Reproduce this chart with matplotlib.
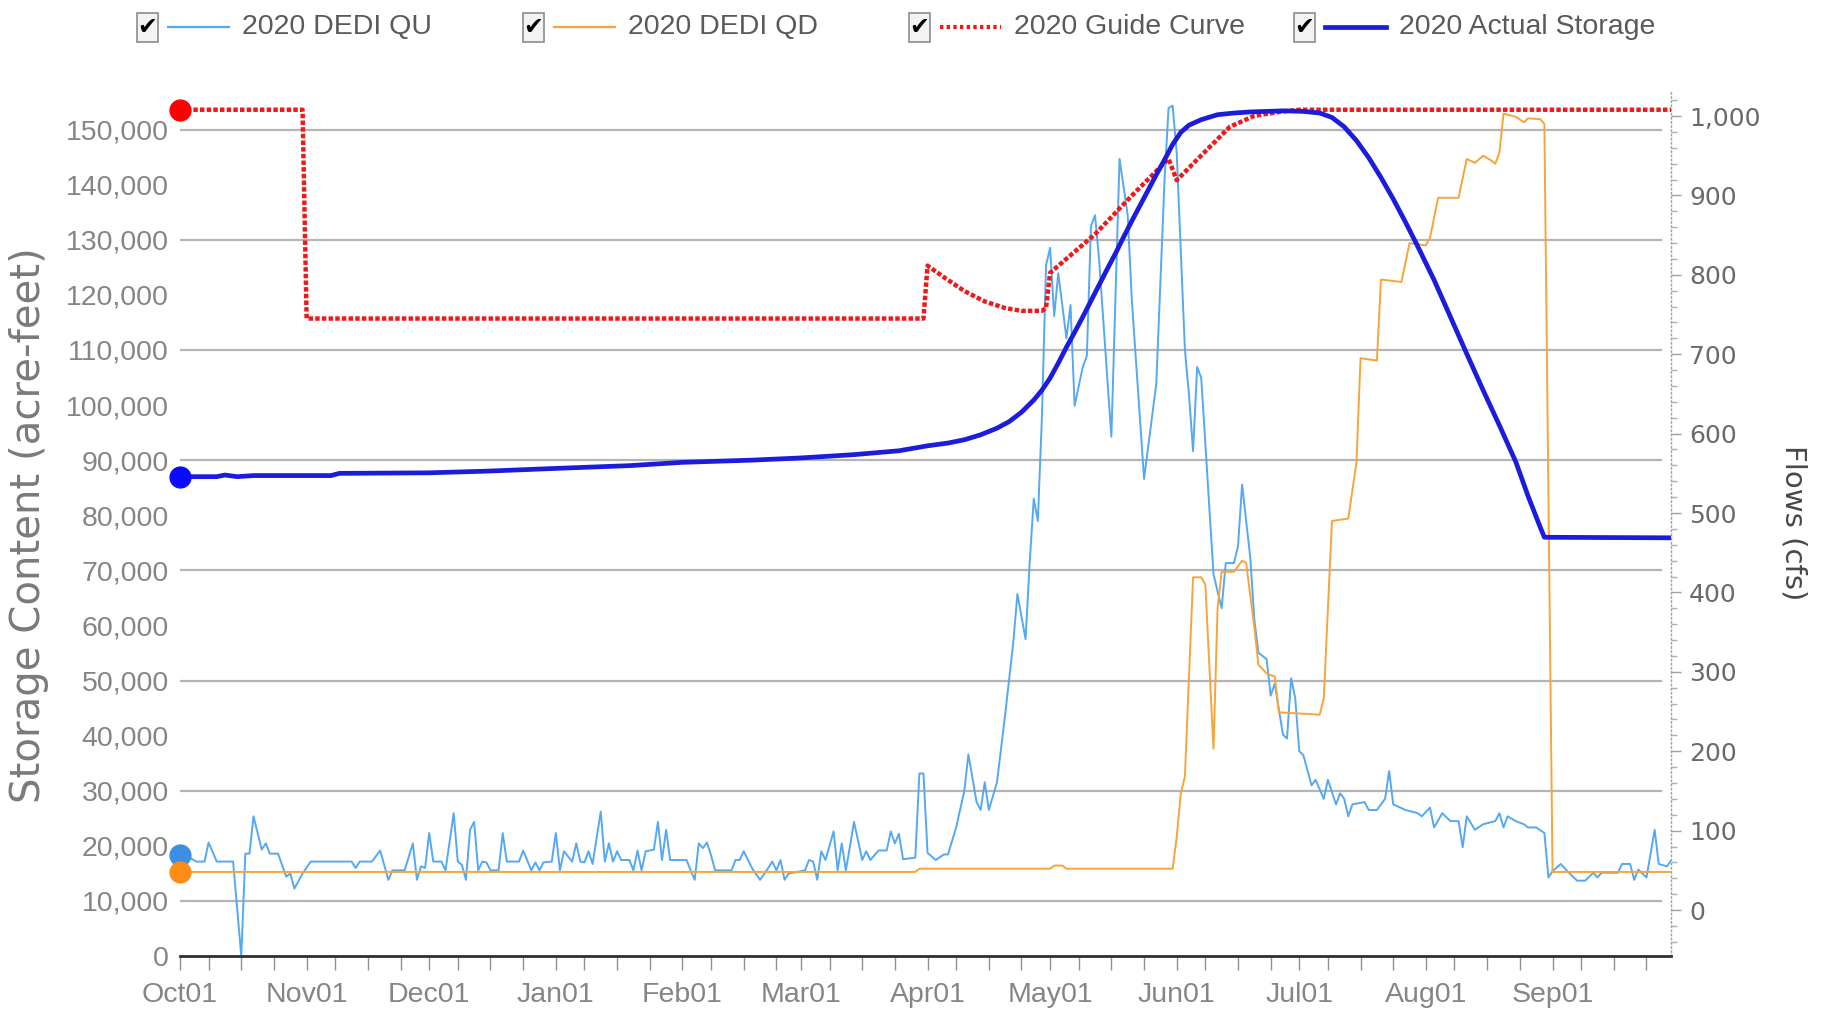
import matplotlib
matplotlib.use('Agg')
import matplotlib.pyplot as plt
import matplotlib.dates as mdates
import matplotlib.transforms as mtransforms
from matplotlib.patches import Rectangle
from matplotlib.lines import Line2D
from matplotlib.ticker import FuncFormatter, MultipleLocator
import numpy as np

plt.rcParams['font.family'] = ['Liberation Sans', 'DejaVu Sans']

START = np.datetime64('2019-10-01')

# days since Oct 1 2019 / upstream flow (cfs)
qu_day = [0, 2, 4, 6, 7, 9, 13, 15, 16, 17, 18, 20, 21, 22, 24, 26, 27, 28, 30, 32,
          42, 43, 44, 47, 49, 51, 52, 55, 57, 58, 59, 60, 61, 62, 64, 65, 67, 68, 69, 70,
          71, 72, 73, 74, 75, 76, 78, 79, 80, 83, 84, 86, 87, 88, 89, 91, 92, 93, 94, 96,
          97, 98, 99, 100, 101, 103, 104, 105, 106, 107, 108, 110, 111, 112, 113, 114, 116, 117, 118, 119,
          120, 124, 125, 126, 127, 128, 129, 130, 131, 135, 136, 137, 138, 140, 142, 144, 145, 146, 147, 148,
          149, 153, 154, 155, 156, 157, 158, 160, 161, 162, 163, 164, 165, 167, 168, 169, 171, 173, 174, 175,
          176, 177, 180, 181, 182, 183, 185, 187, 188, 190, 192, 193, 195, 196, 197, 198, 200, 202, 204, 205,
          207, 208, 209, 210, 211, 212, 213, 214, 215, 217, 218, 219, 221, 222, 223, 224, 225, 228, 230, 232,
          233, 236, 239, 241, 242, 243, 244, 246, 247, 248, 249, 250, 253, 255, 256, 258, 259, 260, 262, 263,
          264, 266, 267, 268, 270, 271, 272, 273, 274, 275, 277, 278, 280, 281, 283, 284, 285, 286, 287, 290,
          291, 293, 295, 296, 297, 300, 303, 304, 306, 307, 309, 311, 313, 314, 315, 317, 319, 322, 323, 324,
          325, 327, 329, 330, 332, 334, 335, 336, 338, 340, 342, 344, 346, 347, 348, 352, 353, 355, 356, 357,
          359, 361, 362, 364, 365]
qu_cfs = [69, 67, 61, 61, 85, 61, 61, -58, 71, 71, 118, 76, 84, 71, 71, 42, 46, 27, 46, 61,
          61, 53, 61, 61, 75, 38, 50, 50, 84, 38, 55, 53, 97, 61, 61, 50, 122, 61, 57, 38,
          101, 111, 50, 61, 60, 50, 50, 97, 61, 61, 75, 50, 60, 50, 60, 61, 97, 50, 74, 61,
          84, 61, 60, 74, 58, 124, 61, 84, 61, 74, 63, 63, 50, 75, 50, 74, 76, 111, 63, 101,
          63, 63, 50, 38, 84, 78, 85, 69, 50, 50, 63, 63, 74, 53, 38, 53, 61, 50, 63, 38,
          46, 50, 63, 61, 38, 74, 63, 99, 50, 84, 50, 80, 111, 63, 74, 63, 75, 75, 99, 84,
          96, 64, 66, 172, 172, 72, 63, 70, 70, 104, 150, 196, 136, 126, 161, 126, 161, 246, 338, 398,
          341, 437, 518, 490, 621, 812, 834, 748, 802, 720, 762, 635, 684, 698, 861, 875, 819, 596, 946, 875,
          769, 543, 663, 918, 1010, 1013, 953, 706, 649, 578, 684, 670, 423, 380, 437, 437, 458, 536, 444, 366,
          324, 316, 270, 285, 221, 216, 292, 267, 200, 195, 157, 164, 140, 164, 133, 147, 140, 118, 133, 136,
          126, 126, 140, 175, 133, 126, 122, 118, 129, 104, 122, 112, 112, 79, 118, 101, 108, 112, 122, 104,
          118, 112, 108, 104, 104, 97, 41, 49, 58, 47, 37, 37, 47, 41, 47, 47, 58, 58, 38, 51,
          41, 101, 58, 55, 62]

# downstream flow (cfs)
qd_day = [0, 180, 181, 213, 214, 216, 217, 243, 244, 245, 246, 248, 250, 251, 253, 254, 255, 258, 260, 261,
          263, 264, 266, 268, 269, 279, 280, 282, 286, 288, 289, 293, 294, 299, 301, 305, 306, 308, 313, 315,
          317, 319, 321, 322, 323, 324, 327, 329, 330, 333, 334, 336, 365]
qd_cfs = [48, 48, 52, 52, 56, 56, 52, 52, 92, 147, 168, 419, 419, 410, 203, 380, 426, 426, 440, 437,
          356, 309, 298, 294, 249, 246, 267, 490, 493, 564, 695, 692, 794, 791, 840, 837, 847, 897, 897, 946,
          941, 950, 944, 940, 954, 1003, 999, 992, 997, 996, 990, 48, 48]

# guide curve (acre-feet)
guide_day = [0, 30, 31, 182, 183, 187, 192, 197, 202, 206, 211, 212, 213, 224, 233, 242, 244, 250, 257, 263,
             270, 274, 365]
guide_af = [153600, 153600, 115700, 115700, 125300, 123200, 120700, 118800, 117600, 117100, 117100, 117600, 124000,
            131000, 138000, 144700, 140800, 145300, 150500, 152500, 153300, 153600, 153600]

# actual storage (acre-feet)
storage_day = [0, 9, 11, 14, 18, 37, 39, 61, 75, 92, 110, 123, 140, 152, 165, 176, 183, 188, 192, 196,
               200, 203, 206, 209, 211, 213, 215, 217, 219, 221, 223, 225, 227, 229, 231, 233, 235, 237, 239, 241,
               243, 245, 247, 250, 254, 258, 262, 266, 270, 275, 279, 282, 285, 288, 291, 294, 297, 300, 303, 307,
               311, 315, 319, 323, 327, 330, 333, 334, 365]
storage_af = [87000, 87000, 87300, 87000, 87200, 87200, 87600, 87700, 88000, 88500, 89000, 89600, 90000, 90400,
              91000, 91700, 92600, 93100, 93700, 94600, 95800, 97000, 98700, 100900, 102700, 104900, 107600,
              110500, 113200, 116000, 118900, 121800, 124700, 127500, 130500, 133400, 136200, 139000, 141800,
              144500, 147300, 149500, 150800, 151800, 152700, 153000, 153200, 153300, 153400, 153300, 153000,
              152200, 150500, 148000, 144900, 141300, 137400, 133200, 128800, 122700, 116000, 109300, 102700,
              96300, 89700, 83500, 77800, 76000, 75900]

storage_ticks = list(range(0, 150001, 10000))
grid_levels = list(range(10000, 150001, 20000))


def to_dates(days):
    return START + np.array(days).astype('timedelta64[D]')


C_QU = '#55a8f2'
C_QD = '#f7a43a'
C_GUIDE = '#f01818'
C_STORE = '#1c1cdc'

W, H = 1822, 1014
fig = plt.figure(figsize=(W / 100, H / 100), dpi=100)
ax = fig.add_axes([180 / W, 1 - 956 / H, 1491 / W, 865 / H])   # flows
ax2 = ax.twinx()                                              # storage
ax.yaxis.tick_right()
ax.yaxis.set_label_position('right')
ax2.yaxis.tick_left()
ax2.yaxis.set_label_position('left')

ax.set_xlim(START, START + np.timedelta64(365, 'D'))
ax.set_ylim(-57.9, 1031.5)
ax2.set_ylim(0, 157000)

# horizontal grid at storage levels, drawn under the flow lines
trans = mtransforms.blended_transform_factory(ax.transAxes, ax2.transData)
for g in grid_levels:
    ax.add_line(Line2D([0, 0.993], [g, g], transform=trans, color='#b4b4b4', lw=1.6, zorder=0.5))

ax.plot(to_dates(qu_day), qu_cfs, color=C_QU, lw=1.4, zorder=2)
ax.plot(to_dates(qd_day), qd_cfs, color=C_QD, lw=1.4, zorder=3)
ax.plot(to_dates(qu_day[:1]), qu_cfs[:1], 'o', ms=15, color='#3d8fe6', clip_on=False, zorder=4)
ax.plot(to_dates(qd_day[:1]), qd_cfs[:1], 'o', ms=15, color='#ff8c14', clip_on=False, zorder=5)

ax2.plot(to_dates(guide_day), guide_af, color=C_GUIDE, lw=3.2, linestyle=(0, (1, 0.5)), zorder=2)
ax2.plot(to_dates(storage_day), storage_af, color=C_STORE, lw=3.4, zorder=3)
ax2.plot(to_dates(guide_day[:1]), guide_af[:1], 'o', ms=15, color='#ff0000', clip_on=False, zorder=4)
ax2.plot(to_dates(storage_day[:1]), storage_af[:1], 'o', ms=15, color='#0a0aff', clip_on=False, zorder=4)

# spines
for s in ['top', 'left']:
    ax.spines[s].set_visible(False)
ax.spines['right'].set_color('#a0a0a0')
ax.spines['right'].set_linestyle((0, (1, 2)))
ax.spines['right'].set_linewidth(1.0)
ax.spines['bottom'].set_color('#303030')
ax.spines['bottom'].set_linewidth(2.0)
for s in ax2.spines.values():
    s.set_visible(False)

# x axis
ax.xaxis.set_major_locator(mdates.MonthLocator())
ax.xaxis.set_major_formatter(mdates.DateFormatter('%b%d'))
ax.xaxis.set_minor_locator(mdates.DayLocator(bymonthday=[8, 16, 24]))
ax.tick_params(axis='x', which='both', direction='out', length=10, width=1.0, color='#909090')
ax.tick_params(axis='x', which='major', labelsize=20.5, labelcolor='#858585', pad=9)

# right flow axis
ax.yaxis.set_major_locator(MultipleLocator(100))
ax.yaxis.set_minor_locator(MultipleLocator(20))
ax.yaxis.set_major_formatter(FuncFormatter(lambda v, p: f'{v:,.0f}' if 0 <= v <= 1000 else ''))
ax.tick_params(axis='y', which='major', direction='out', length=7, width=1.0, color='#a0a0a0',
               labelsize=18, labelcolor='#6a6a6a', pad=6, labelfontfamily='DejaVu Sans')
ax.tick_params(axis='y', which='minor', direction='out', length=4, width=1.0, color='#b0b0b0')

# left storage axis
ax2.set_yticks(storage_ticks)
ax2.yaxis.set_major_formatter(FuncFormatter(lambda v, p: f'{v:,.0f}'))
ax2.tick_params(axis='y', length=0, labelsize=20.5, labelcolor='#858585', pad=8)

fig.text(29 / W, 1 - 525 / H, 'Storage Content (acre-feet)', rotation=90, ha='center', va='center',
         fontsize=29, color='#7a7a7a', family='DejaVu Sans')
fig.text(1793 / W, 1 - 523 / H, 'Flows (cfs)', rotation=-90, ha='center', va='center',
         fontsize=21, color='#484848', family='DejaVu Sans')

# legend with check boxes
legend_items = [
    ('2020 DEDI QU', dict(color=C_QU, lw=1.6), 137),
    ('2020 DEDI QD', dict(color=C_QD, lw=1.6), 523),
    ('2020 Guide Curve', dict(color=C_GUIDE, lw=3.0, linestyle=(0, (0.8, 0.8))), 909),
    ('2020 Actual Storage', dict(color=C_STORE, lw=3.4), 1294),
]
yc = 1 - 27 / H
for label, style, x0 in legend_items:
    fig.add_artist(Rectangle((x0 / W, 1 - 42 / H), 21 / W, 29 / H, transform=fig.transFigure,
                             facecolor='#f3f3f3', edgecolor='#8c8c8c', lw=1.2))
    fig.text((x0 + 10.5) / W, yc, '\u2714', ha='center', va='center', fontsize=17,
             color='black', family='DejaVu Sans')
    fig.add_artist(Line2D([(x0 + 31) / W, (x0 + 92) / W], [yc, yc], transform=fig.transFigure, **style))
    fig.text((x0 + 105) / W, yc, label, ha='left', va='center', fontsize=20.5, color='#5a5a5a')

fig.savefig('out.png', dpi=100)
